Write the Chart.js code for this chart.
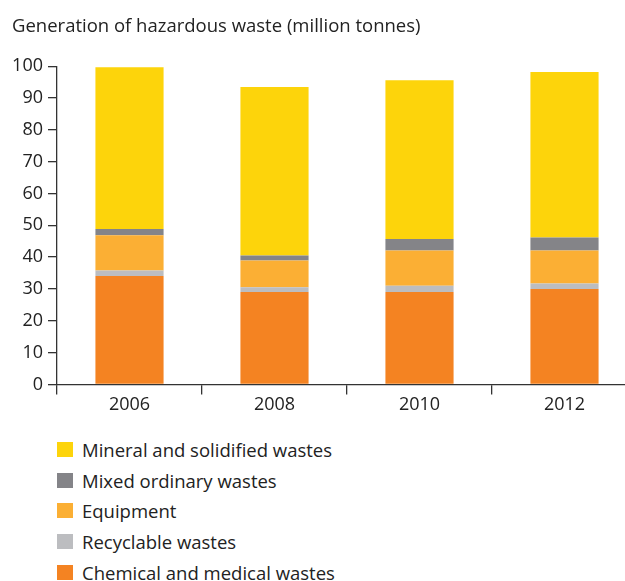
<!DOCTYPE html>
<html>
<head>
<meta charset="utf-8">
<script src="https://cdn.jsdelivr.net/npm/chart.js@4/dist/chart.umd.min.js"></script>
<style>
  html, body { margin: 0; padding: 0; background: #fff; overflow: hidden; }
  #wrap { position: relative; width: 640px; height: 416px; }
  #legend { position: absolute; left: 57px; top: 434px; font-family: 'Open Sans', sans-serif; font-size: 18.5px; color: #222; }
  #legend div { height: 30.7px; display: flex; align-items: center; }
  #legend span.box { width: 16px; height: 15px; margin-right: 9px; display: inline-block; }
</style>
</head>
<body>
<div id="wrap"><canvas id="wasteChart" width="640" height="416"></canvas></div>
<div id="legend"></div>
<script>
// Data kategori dan seri (million tonnes)
const years = ['2006', '2008', '2010', '2012'];
const chemical = [34.1, 29.0, 29.0, 30.0];
const recyclable = [1.7, 1.5, 2.0, 1.7];
const equipment = [11.1, 8.4, 11.1, 10.4];
const mixedOrdinary = [1.9, 1.6, 3.6, 4.1];
const mineral = [50.9, 53.0, 49.9, 52.0];
const yTicks = [0, 10, 20, 30, 40, 50, 60, 70, 80, 90, 100];

const axisColor = '#333';
const font = { family: "'Open Sans', sans-serif", size: 18 };

const ctx = document.getElementById('wasteChart').getContext('2d');
const chart = new Chart(ctx, {
    type: 'bar',
    data: {
        labels: years,
        datasets: [
            { label: 'Chemical and medical wastes', data: chemical, backgroundColor: '#F48322' },
            { label: 'Recyclable wastes', data: recyclable, backgroundColor: '#BCBDC0' },
            { label: 'Equipment', data: equipment, backgroundColor: '#FBAF34' },
            { label: 'Mixed ordinary wastes', data: mixedOrdinary, backgroundColor: '#848488' },
            { label: 'Mineral and solidified wastes', data: mineral, backgroundColor: '#FDD40B' }
        ]
    },
    options: {
        responsive: false,
        animation: false,
        devicePixelRatio: 1,
        layout: { padding: { left: 12, right: 3, top: 0, bottom: 0 } },
        datasets: { bar: { barPercentage: 0.47, categoryPercentage: 1, borderWidth: 0 } },
        plugins: {
            legend: { display: false },
            tooltip: { enabled: false },
            title: {
                display: true,
                text: 'Generation of hazardous waste (million tonnes)',
                align: 'start',
                color: '#222',
                font: { family: font.family, size: 18.5, weight: 'normal' },
                padding: { top: 16, bottom: 28 }
            }
        },
        scales: {
            x: {
                stacked: true,
                grid: { offset: true, drawOnChartArea: false, tickLength: 10, color: axisColor, lineWidth: 1.3 },
                border: { color: axisColor, width: 1.3 },
                ticks: { color: '#222', font: font, padding: 0, maxRotation: 0 }
            },
            y: {
                stacked: true,
                min: 0,
                max: 100,
                afterBuildTicks: axis => { axis.ticks = yTicks.map(v => ({ value: v })); },
                afterFit: axis => { axis.width = 45; },
                grid: { drawOnChartArea: false, tickLength: 9, color: axisColor, lineWidth: 1.3 },
                border: { color: axisColor, width: 1.3 },
                ticks: { color: '#222', font: font, padding: 5, autoSkip: false }
            }
        }
    }
});

// Legend HTML (urutan terbalik)
const legendEl = document.getElementById('legend');
chart.data.datasets.slice().reverse().forEach(ds => {
    const row = document.createElement('div');
    row.innerHTML = '<span class="box" style="background:' + ds.backgroundColor + '"></span>' + ds.label;
    legendEl.appendChild(row);
});
</script>
</body>
</html>
